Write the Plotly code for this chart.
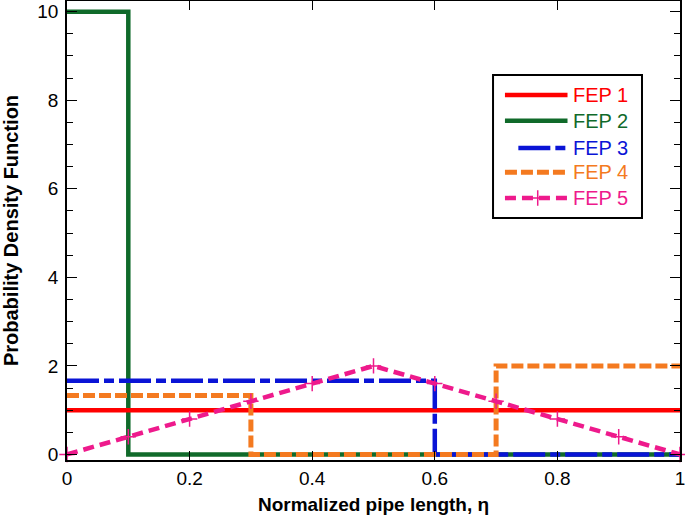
import plotly.graph_objects as go

# ---- data ----
fep1_x = [0.0, 1.0]
fep1_y = [1.0, 1.0]
fep2_x = [0.0, 0.1, 0.1, 1.0]
fep2_y = [10.0, 10.0, 0.0, 0.0]
fep3_x = [0.0, 0.6, 0.6, 1.0]
fep3_y = [1.6667, 1.6667, 0.0, 0.0]
fep4_x = [0.0, 0.3, 0.3, 0.7, 0.7, 1.0]
fep4_y = [1.3333, 1.3333, 0.0, 0.0, 2.0, 2.0]
fep5_x = [0.0, 0.1, 0.2, 0.3, 0.4, 0.5, 0.6, 0.7, 0.8, 0.9, 1.0]
fep5_y = [0.0, 0.4, 0.8, 1.2, 1.6, 2.0, 1.6, 1.2, 0.8, 0.4, 0.0]
series_names = ["FEP 1", "FEP 2", "FEP 3", "FEP 4", "FEP 5"]
x_ticks = [0, 0.2, 0.4, 0.6, 0.8, 1]
x_ticklabels = ["0", "0.2", "0.4", "0.6", "0.8", "1"]
y_ticks = [0, 2, 4, 6, 8, 10]
y_ticklabels = ["0", "2", "4", "6", "8", "10"]

colors = {"FEP 1": "#ff0000", "FEP 2": "#106a2a", "FEP 3": "#0a14d6",
          "FEP 4": "#f47a20", "FEP 5": "#ee1a8c"}
styles = {"FEP 1": dict(width=4.5, dash="solid"),
          "FEP 2": dict(width=4.5, dash="solid"),
          "FEP 3": dict(width=4.5, dash="32px,5px,10px,5px"),
          "FEP 4": dict(width=5, dash="12px,4px"),
          "FEP 5": dict(width=4.5, dash="11px,6px")}
data = {"FEP 1": (fep1_x, fep1_y), "FEP 2": (fep2_x, fep2_y),
        "FEP 3": (fep3_x, fep3_y), "FEP 4": (fep4_x, fep4_y),
        "FEP 5": (fep5_x, fep5_y)}

FONT = "Liberation Sans, Arial, sans-serif"
fig = go.Figure()

draw_order = ["FEP 2", "FEP 1", "FEP 3", "FEP 4", "FEP 5"]
for name in draw_order:
    xs, ys = data[name]
    mode = "lines+markers" if name == "FEP 5" else "lines"
    fig.add_trace(go.Scatter(
        x=xs, y=ys, mode=mode, name=name, showlegend=False,
        line=dict(color=colors[name], **styles[name]),
        marker=dict(symbol="cross-thin", size=11,
                    line=dict(color=colors[name], width=1.5)),
        cliponaxis=False, hoverinfo="skip"))

# ---- hand-drawn legend in an overlay axis ----
row_y = [0.86, 0.68, 0.49, 0.32, 0.14]
for name, ry in zip(series_names, row_y):
    if name == "FEP 5":
        fig.add_trace(go.Scatter(
            x=[0.08, 0.50], y=[ry, ry], mode="lines", xaxis="x2", yaxis="y2",
            showlegend=False, line=dict(color=colors[name], **styles[name]),
            hoverinfo="skip"))
        fig.add_trace(go.Scatter(
            x=[0.30], y=[ry], mode="markers", xaxis="x2", yaxis="y2",
            showlegend=False,
            marker=dict(symbol="cross-thin", size=11,
                        line=dict(color=colors[name], width=1.5)),
            hoverinfo="skip"))
    else:
        x0 = 0.17 if name == "FEP 3" else 0.08
        fig.add_trace(go.Scatter(
            x=[x0, 0.50], y=[ry, ry], mode="lines", xaxis="x2", yaxis="y2",
            showlegend=False, line=dict(color=colors[name], **styles[name]),
            hoverinfo="skip"))
    fig.add_annotation(x=0.525, y=ry, xref="x2", yref="y2", text=name,
                       showarrow=False, xanchor="left", yanchor="middle",
                       font=dict(family=FONT, size=20, color=colors[name]))

fig.add_shape(type="rect", xref="x2 domain", yref="y2 domain",
              x0=0, x1=1, y0=0, y1=1, line=dict(color="black", width=2),
              fillcolor="rgba(0,0,0,0)")

fig.update_layout(
    width=685, height=521,
    margin=dict(l=67, r=5, t=1, b=61, autoexpand=False),
    paper_bgcolor="white", plot_bgcolor="white",
    font=dict(family=FONT, size=19, color="black"),
    xaxis=dict(range=[0, 1], tickvals=x_ticks, ticktext=x_ticklabels,
               ticks="inside", ticklen=9, tickwidth=1.2, tickcolor="black",
               showline=True, linecolor="black", linewidth=1.5, mirror="ticks",
               showgrid=False, zeroline=False, automargin=False,
               ticklabeloverflow="allow",
               title=dict(text="<b>Normalized pipe length, η</b>",
                          font=dict(size=19), standoff=10)),
    yaxis=dict(range=[-0.125, 10.24], tickvals=y_ticks, ticktext=y_ticklabels,
               ticks="inside", ticklen=10, tickwidth=1.2, tickcolor="black",
               showline=True, linecolor="black", linewidth=1.5, mirror="ticks",
               showgrid=False, zeroline=False, automargin=False,
               ticklabeloverflow="allow", ticklabelstandoff=3,
               minor=dict(dtick=0.5, tick0=0, ticks="inside", ticklen=6,
                          tickwidth=1.2, tickcolor="black", showgrid=False),
               title=dict(text="<b>Probability Density Function</b>",
                          font=dict(size=20), standoff=16)),
    xaxis2=dict(domain=[0.695, 0.938], range=[0, 1], anchor="y2",
                visible=False, fixedrange=True),
    yaxis2=dict(domain=[0.527, 0.839], range=[0, 1], anchor="x2",
                visible=False, fixedrange=True),
    showlegend=False,
)

fig.write_html("out.html",
               config={"displayModeBar": False},
               post_script="document.body.style.margin='0px';"
                           "document.body.style.overflow='hidden';")
